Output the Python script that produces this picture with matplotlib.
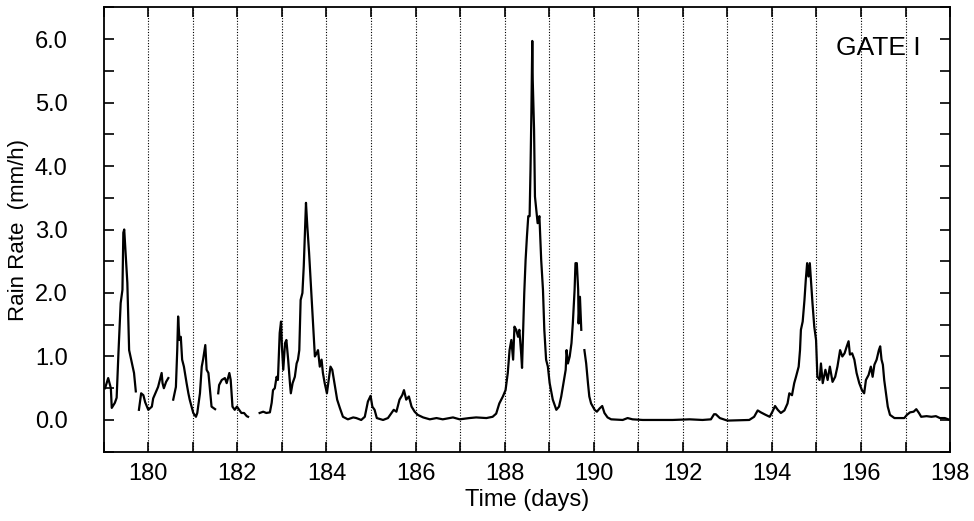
import numpy as np
import matplotlib.pyplot as plt
from matplotlib.ticker import MultipleLocator

plt.rcParams['font.family'] = ['Liberation Sans', 'DejaVu Sans']

# GATE phase I area-averaged rain rate; NaN marks gaps in the record
day = [
    179.03, 179.10, 179.16, 179.18, 179.25, 179.29, 179.33, 179.38, 179.42, 179.44,
    179.46, 179.50, 179.53, 179.57, 179.63, 179.68, 179.72, np.nan,
    179.79, 179.84, 179.89, 179.93, 180.00, 180.08, 180.11, 180.19, 180.22, 180.26,
    180.30, 180.32, 180.35, 180.40, 180.45, np.nan,
    180.56, 180.62, 180.65, 180.67, 180.70, 180.73, 180.76, 180.80, 180.86, 180.90,
    180.93, 181.01, 181.07, 181.10, 181.16, 181.20, 181.23, 181.28, 181.31, 181.35,
    181.38, 181.42, 181.50, np.nan,
    181.57, 181.59, 181.65, 181.72, 181.76, 181.82, 181.85, 181.89, 181.94, 181.99,
    182.04, 182.09, 182.15, 182.21, 182.24, np.nan,
    182.50, 182.58, 182.65, 182.73, 182.77, 182.80, 182.84, 182.88, 182.91, 182.95,
    182.98, 183.00, 183.03, 183.07, 183.10, 183.14, 183.18, 183.20, 183.24, 183.29,
    183.33, 183.36, 183.39, 183.42, 183.46, 183.49, 183.52, 183.54, 183.57, 183.61,
    183.66, 183.70, 183.74, 183.78, 183.81, 183.85, 183.89, 183.92, 183.96, 184.01,
    184.06, 184.09, 184.13, 184.19, 184.24, 184.30, 184.37, 184.48, 184.60, 184.67,
    184.78, 184.86, 184.93, 184.99, 185.03, 185.08, 185.13, 185.27, 185.38, 185.46,
    185.51, 185.57, 185.64, 185.70, 185.74, 185.79, 185.85, 185.91, 185.98, 186.05,
    186.17, 186.32, 186.47, 186.61, 186.84, 186.99, 187.21, 187.36, 187.59, 187.73,
    187.81, 187.88, 187.96, 188.02, 188.07, 188.11, 188.15, 188.19, 188.22, 188.26,
    188.30, 188.33, 188.37, 188.39, 188.42, 188.44, 188.47, 188.50, 188.53, 188.56,
    188.58, 188.60, 188.62, 188.63, 188.66, 188.68, 188.71, 188.74, 188.78, 188.82,
    188.86, 188.89, 188.93, 188.97, 189.01, 189.08, 189.16, 189.22, 189.27, 189.32,
    189.37, 189.39, 189.42, 189.46, 189.50, 189.53, 189.57, 189.59, 189.62, 189.65,
    189.66, 189.69, 189.72, np.nan,
    189.79, 189.83, 189.87, 189.90, 189.94, 190.02, 190.07, 190.13, 190.19, 190.24,
    190.31, 190.39, 190.65, 190.76, 190.87, 191.10, 191.40, 191.77, 192.15, 192.44,
    192.63, 192.70, 192.74, 192.83, 193.00, 193.49, 193.60, 193.68, 193.75, 193.86,
    193.95, 194.01, 194.07, 194.13, 194.20, 194.28, 194.35, 194.39, 194.45, 194.50,
    194.54, 194.60, 194.63, 194.65, 194.69, 194.73, 194.76, 194.79, 194.82, 194.85,
    194.88, 194.91, 194.95, 194.99, 195.02, 195.07, 195.10, 195.14, 195.20, 195.25,
    195.30, 195.36, 195.42, 195.47, 195.53, 195.58, 195.63, 195.68, 195.72, 195.75,
    195.80, 195.85, 195.90, 195.96, 196.02, 196.07, 196.11, 196.17, 196.22, 196.26,
    196.30, 196.35, 196.40, 196.43, 196.46, 196.49, 196.52, 196.56, 196.60, 196.65,
    196.75, 196.86, 196.97, 197.03, 197.10, 197.18, 197.24, 197.30, 197.35, 197.47,
    197.58, 197.68, 197.77, 197.88, 198.00,
]
rain_rate = [
    0.50, 0.66, 0.50, 0.19, 0.27, 0.35, 1.05, 1.84, 2.05, 2.95,
    3.00, 2.52, 2.16, 1.10, 0.90, 0.74, 0.45, np.nan,
    0.16, 0.42, 0.39, 0.28, 0.16, 0.21, 0.34, 0.47, 0.52, 0.63,
    0.74, 0.58, 0.50, 0.60, 0.66, np.nan,
    0.32, 0.52, 1.10, 1.63, 1.26, 1.31, 0.95, 0.84, 0.58, 0.42,
    0.32, 0.11, 0.05, 0.11, 0.42, 0.84, 0.95, 1.18, 0.79, 0.74,
    0.52, 0.21, 0.17, np.nan,
    0.42, 0.55, 0.63, 0.66, 0.58, 0.74, 0.63, 0.21, 0.16, 0.21,
    0.16, 0.11, 0.11, 0.06, 0.05, np.nan,
    0.11, 0.13, 0.11, 0.12, 0.27, 0.47, 0.50, 0.68, 0.63, 1.37,
    1.55, 1.16, 0.79, 1.21, 1.26, 0.95, 0.58, 0.42, 0.58, 0.68,
    0.89, 0.95, 1.10, 1.89, 2.00, 2.42, 3.00, 3.42, 3.05, 2.63,
    2.00, 1.47, 1.00, 1.05, 1.10, 0.84, 0.95, 0.74, 0.58, 0.42,
    0.68, 0.84, 0.79, 0.53, 0.32, 0.19, 0.05, 0.01, 0.04, 0.03,
    0.00, 0.05, 0.29, 0.38, 0.21, 0.16, 0.03, 0.00, 0.03, 0.11,
    0.16, 0.13, 0.32, 0.39, 0.47, 0.32, 0.37, 0.21, 0.13, 0.08,
    0.04, 0.01, 0.03, 0.01, 0.04, 0.01, 0.03, 0.04, 0.03, 0.05,
    0.10, 0.26, 0.37, 0.47, 0.74, 1.10, 1.26, 0.95, 1.47, 1.42,
    1.31, 1.42, 1.05, 0.82, 1.53, 2.00, 2.52, 2.89, 3.21, 3.21,
    3.94, 4.84, 5.97, 5.36, 4.57, 3.52, 3.31, 3.10, 3.21, 2.52,
    2.05, 1.42, 0.95, 0.84, 0.58, 0.32, 0.16, 0.21, 0.37, 0.58,
    0.79, 1.10, 0.89, 1.00, 1.21, 1.52, 2.05, 2.47, 2.47, 2.05,
    1.52, 1.94, 1.42, np.nan,
    1.10, 0.89, 0.58, 0.37, 0.26, 0.16, 0.13, 0.18, 0.22, 0.11,
    0.04, 0.01, 0.00, 0.03, 0.01, 0.00, 0.00, 0.00, 0.01, 0.00,
    0.01, 0.09, 0.09, 0.03, -0.01, 0.00, 0.05, 0.15, 0.12, 0.08,
    0.05, 0.13, 0.22, 0.16, 0.11, 0.15, 0.26, 0.42, 0.39, 0.58,
    0.68, 0.84, 1.10, 1.42, 1.55, 1.89, 2.21, 2.47, 2.26, 2.47,
    2.16, 1.84, 1.47, 1.26, 0.68, 0.63, 0.89, 0.58, 0.79, 0.63,
    0.84, 0.60, 0.68, 0.84, 1.10, 1.00, 1.05, 1.16, 1.24, 1.03,
    1.05, 0.95, 0.74, 0.58, 0.47, 0.42, 0.63, 0.71, 0.84, 0.68,
    0.87, 0.95, 1.10, 1.16, 0.95, 0.87, 0.63, 0.42, 0.21, 0.08,
    0.03, 0.03, 0.03, 0.08, 0.12, 0.13, 0.17, 0.11, 0.05, 0.06,
    0.05, 0.06, 0.03, 0.03, 0.00,
]

fig = plt.figure(figsize=(9.74, 5.21), dpi=100)
ax = fig.add_axes([0.1065, 0.133, 0.869, 0.853])

ax.plot(day, rain_rate, color='black', lw=1.6)

ax.set_xlim(179, 198)
ax.set_ylim(-0.5, 6.5)

# dotted line at every day boundary
for d in range(180, 198):
    ax.axvline(d, color='black', lw=0.8, ls=(0, (1, 1.5)), zorder=0)

ax.set_xticks(range(180, 199, 2))
ax.xaxis.set_minor_locator(MultipleLocator(1))
ax.set_yticks(np.arange(0, 6.1, 1.0))
ax.yaxis.set_minor_locator(MultipleLocator(0.5))
ax.set_yticklabels(['%.1f' % v for v in np.arange(0, 6.1, 1.0)])

ax.tick_params(which='both', direction='in', top=True, right=True,
               length=7, width=1.2, labelsize=17)
ax.tick_params(axis='x', pad=8)
ax.tick_params(axis='y', pad=26)
for sp in ax.spines.values():
    sp.set_linewidth(1.3)

ax.set_xlabel('Time (days)', fontsize=17, labelpad=3)
ax.set_ylabel('Rain Rate  (mm/h)', fontsize=16, labelpad=4)

ax.text(0.965, 0.935, 'GATE I', transform=ax.transAxes, ha='right', va='top',
        fontsize=19)

fig.savefig('out.png', dpi=100)
